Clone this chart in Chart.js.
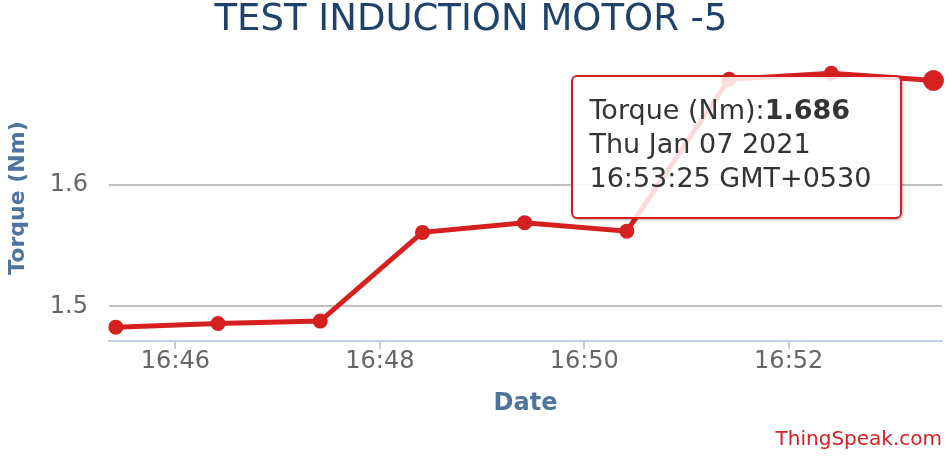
<!DOCTYPE html>
<html>
<head>
<meta charset="utf-8">
<script src="https://cdn.jsdelivr.net/npm/chart.js@4.4.1/dist/chart.umd.min.js"></script>
<style>
  body { margin: 0; background: #fff; }
  #wrap { position: relative; width: 950px; height: 456px; }
  #tip {
    position: absolute;
    background: rgba(255, 255, 255, 0.85);
    border: 2px solid #d62020;
    border-radius: 6px;
    box-shadow: 1px 1px 3px rgba(0, 0, 0, 0.3);
    padding: 16px 29px 22px 16px;
    font-family: "DejaVu Sans", sans-serif;
    font-size: 27px;
    line-height: 34px;
    color: #333;
    white-space: nowrap;
    pointer-events: none;
    opacity: 0;
  }
</style>
</head>
<body>
<div id="wrap">
  <canvas id="torque_chart" width="950" height="456"></canvas>
  <div id="tip"></div>
</div>
<script>
// feed readings (time of day, torque in Nm)
const chartTitle = "TEST INDUCTION MOTOR -5";
const fieldName = "Torque (Nm)";
const dateLabel = "Thu Jan 07 2021";
const times = ["16:45:25", "16:46:25", "16:47:25", "16:48:25", "16:49:25",
               "16:50:25", "16:51:25", "16:52:25", "16:53:25"];
const torque = [1.483, 1.486, 1.488, 1.561, 1.569, 1.562, 1.687, 1.692, 1.686];
const xTicks = ["16:46", "16:48", "16:50", "16:52"];
const yTicks = [1.5, 1.6];
const xRange = ["16:45:21", "16:53:30"];
const yRange = [1.4716, 1.707];
const hoverIndex = 8;

// minutes past 16:00
function toMin(t) {
    let p = t.split(":");
    let m = (parseInt(p[0]) - 16) * 60 + parseInt(p[1]);
    if (p.length > 2) m += parseInt(p[2]) / 60;
    return m;
}

let points = new Array();
for (let i = 0; i < times.length; i++) {
    points.push({x: toMin(times[i]), y: torque[i]});
}

function showTip(context) {
    let tt = context.tooltip;
    let el = document.getElementById("tip");
    if (tt.opacity === 0 || !tt.dataPoints || !tt.dataPoints.length) {
        el.style.opacity = 0;
        return;
    }
    let dp = tt.dataPoints[0];
    el.innerHTML = fieldName + ":<b>" + torque[dp.dataIndex].toFixed(3) + "</b><br>" +
        dateLabel + "<br>" + times[dp.dataIndex] + " GMT+0530";
    el.style.opacity = 1;
    el.style.left = (tt.caretX - 31 - el.offsetWidth) + "px";
    el.style.top = (tt.caretY - 6) + "px";
}

const red = "#d62020";
const fontName = "'DejaVu Sans', sans-serif";

let chart = new Chart("torque_chart", {
    type: "line",
    data: {
        datasets: [{
            label: fieldName,
            data: points,
            borderColor: red,
            backgroundColor: red,
            borderWidth: 5,
            pointRadius: 5,
            pointHoverRadius: 10,
            pointHoverBackgroundColor: red,
            pointHoverBorderColor: red,
            tension: 0,
            fill: false,
            clip: false
        }]
    },
    options: {
        responsive: false,
        animation: false,
        events: [],
        layout: {autoPadding: false, padding: {left: 0, right: 8, top: 0, bottom: 0}},
        scales: {
            x: {
                type: "linear",
                min: toMin(xRange[0]),
                max: toMin(xRange[1]),
                afterBuildTicks: function (axis) {
                    axis.ticks = xTicks.map(function (t) { return {value: toMin(t)}; });
                },
                afterFit: function (axis) { axis.height = 89; },
                ticks: {
                    color: "#666",
                    padding: 1,
                    maxRotation: 0,
                    font: {family: fontName, size: 24, lineHeight: 1},
                    callback: function (v) {
                        let m = Math.round(v);
                        return "16:" + (m < 10 ? "0" + m : m);
                    }
                },
                grid: {
                    drawOnChartArea: false,
                    drawTicks: true,
                    tickLength: 8,
                    color: "#c0d0e0",
                    lineWidth: 2
                },
                border: {display: true, color: "#c0d0e0", width: 2},
                title: {
                    display: true,
                    text: "Date",
                    color: "#4d759e",
                    padding: {top: 0, bottom: 14},
                    font: {family: fontName, size: 24, weight: "bold", lineHeight: 1}
                }
            },
            y: {
                min: yRange[0],
                max: yRange[1],
                afterBuildTicks: function (axis) {
                    axis.ticks = yTicks.map(function (v) { return {value: v}; });
                },
                afterFit: function (axis) { axis.width = 109; },
                ticks: {
                    color: "#666",
                    padding: 21,
                    font: {family: fontName, size: 24, lineHeight: 1},
                    callback: function (v) { return v.toFixed(1); }
                },
                grid: {drawTicks: false, color: "#c0c0c0", lineWidth: 2},
                border: {display: false},
                title: {
                    display: true,
                    text: fieldName,
                    color: "#4d759e",
                    padding: {top: 7, bottom: 0},
                    font: {family: fontName, size: 22, weight: "bold", lineHeight: 1}
                }
            }
        },
        plugins: {
            legend: {display: false},
            title: {
                display: true,
                text: chartTitle,
                color: "#1f426a",
                padding: {top: 2, bottom: 16},
                font: {family: fontName, size: 37, weight: "normal", lineHeight: 1}
            },
            subtitle: {
                display: true,
                text: "ThingSpeak.com",
                position: "bottom",
                align: "end",
                color: red,
                padding: {top: 0, bottom: 6},
                font: {family: fontName, size: 20, lineHeight: 1}
            },
            tooltip: {
                enabled: false,
                external: showTip
            }
        }
    }
});

let active = [{datasetIndex: 0, index: hoverIndex}];
let el = chart.getDatasetMeta(0).data[hoverIndex];
chart.setActiveElements(active);
chart.tooltip.setActiveElements(active, {x: el.x, y: el.y});
chart.update();
</script>
</body>
</html>
